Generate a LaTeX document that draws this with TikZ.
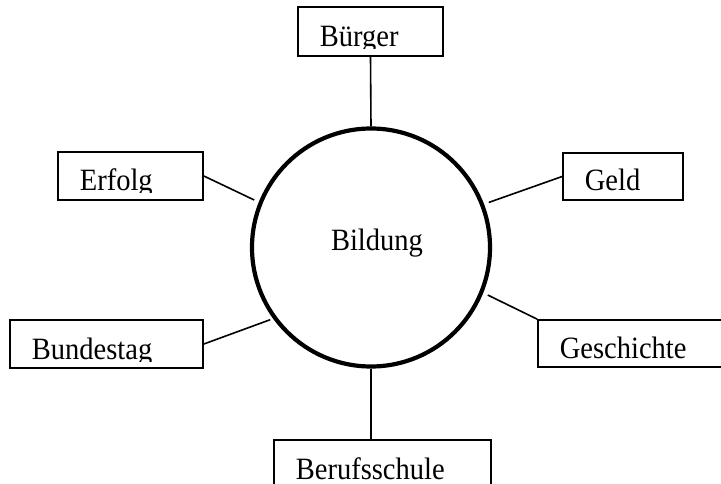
\documentclass[tikz,border=0pt]{standalone}
\usepackage{fontspec}
\setmainfont[FakeStretch=0.92]{Liberation Serif}

\begin{document}
\begin{tikzpicture}[x=1pt, y=-1pt, spoke/.style={line width=1.6pt},
    conceptbox/.style={draw, line width=1.7pt, inner sep=0pt,
        path picture={
            \clip ([yshift=7pt]path picture bounding box.south west) rectangle (path picture bounding box.north east);
            \node[anchor=base west, draw=none, inner sep=0pt, minimum width=0pt, minimum height=0pt,
            font=\fontsize{31}{34}\selectfont]
            at ([xshift=21pt, yshift=9pt]path picture bounding box.south west) {#1};}}]

    % the page, boxes at the edges are cut off
    \clip (0,0) rectangle (721,484);

    % the circle in the middle
    \node[draw, circle, line width=4.2pt, minimum size=238pt, inner sep=0pt] (bildung) at (371,247.5) {};
    \node[anchor=base, font=\fontsize{31}{34}\selectfont] (bildunglabel)
        at ([xshift=6pt, yshift=-3pt]bildung.center) {Bildung};

    % the boxes round it
    \node[conceptbox=Bürger, minimum width=145pt, minimum height=49pt] (buerger) at (370.5,31.5) {};
    \node[conceptbox=Erfolg, minimum width=145pt, minimum height=48pt] (erfolg) at (130.5,176) {};
    \node[conceptbox=Geld, minimum width=120pt, minimum height=47pt] (geld) at (623,176.5) {};
    \node[conceptbox=Bundestag, minimum width=193pt, minimum height=48pt] (bundestag) at (106.5,344) {};
    \node[conceptbox=Geschichte, minimum width=200pt, minimum height=47pt] (geschichte) at (638,343.5) {};
    \node[conceptbox=Berufsschule, minimum width=217pt, minimum height=48pt] (berufsschule) at (382.5,464) {};

    % the lines
    \draw[spoke] (buerger.south) -- (bildung.north);
    \draw[spoke, shorten >=5pt] (erfolg.east) -- (bildung.158.6);
    \draw[spoke, shorten >=5pt] (geld.west) -- (bildung.21.5);
    \draw[spoke, shorten >=3pt] (bundestag.east) -- (bildung.216.6);
    \draw[spoke, shorten >=5pt] (geschichte.north west) -- (bildung.338);
    \draw[spoke] (bildung.south) -- (bildung.south |- berufsschule.north);
\end{tikzpicture}
\end{document}
